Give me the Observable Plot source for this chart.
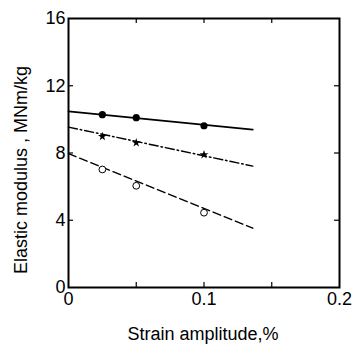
<!DOCTYPE html>
<html><head><meta charset="utf-8">
<script src="https://cdn.jsdelivr.net/npm/d3@7"></script>
<script src="https://cdn.jsdelivr.net/npm/@observablehq/plot@0.6"></script>
<style>body{margin:0;background:#fff}svg{font-family:"Liberation Sans",Arial,sans-serif}</style>
</head><body><div id="chart"></div>
<script>
// Measured points (strain amplitude, %)
const strain = [0.025, 0.05, 0.1];
const filledCircle = [10.28, 10.1, 9.62];
const star = [8.99, 8.61, 7.9];
const openCircle = [7.02, 6.05, 4.45];
// Fitted lines (endpoints)
const fitX = [0, 0.136];
const fitSolid = [10.48, 9.39];
const fitDashDot = [9.54, 7.22];
const fitDashed = [7.96, 3.53];
// Axis ticks
const xTicks = [0, 0.1, 0.2];
const xInnerTicks = [0.05, 0.1, 0.15];
const yTicks = [0, 4, 8, 12, 16];
const yInnerTicks = [4, 8, 12];
const xLabel = "Strain amplitude,%";
const yLabel = "Elastic modulus , MNm/kg";

const W = 354, H = 344, mL = 68, mR = 15, mT = 18, mB = 57;
const iW = W - mL - mR, iH = H - mT - mB;
const tickLen = 5;

const pts = (ys) => strain.map((x, i) => ({x, y: ys[i]}));
const fit = (ys) => fitX.map((x, i) => ({x, y: ys[i]}));

const chart = Plot.plot({
  width: W, height: H,
  marginLeft: mL, marginRight: mR, marginTop: mT, marginBottom: mB,
  style: {background: "#fff", color: "#000", fontFamily: "'Liberation Sans', Arial, sans-serif"},
  x: {domain: [0, 0.2]},
  y: {domain: [0, 16]},
  marks: [
    Plot.axisX({ticks: xTicks, tickSize: 0, tickPadding: 5, fontSize: 18, label: null,
      tickFormat: d => d === 0 ? "0" : d3.format(".1f")(d)}),
    Plot.axisY({ticks: yTicks, tickSize: 0, tickPadding: 3, fontSize: 18, label: null,
      tickFormat: d => String(d)}),
    // inward ticks
    Plot.tickX(xInnerTicks, {x: d => d, insetTop: iH - tickLen, stroke: "#000", strokeWidth: 1.2}),
    Plot.tickX(xInnerTicks, {x: d => d, insetBottom: iH - tickLen, stroke: "#000", strokeWidth: 1.2}),
    Plot.tickY(yInnerTicks, {y: d => d, insetRight: iW - tickLen, stroke: "#000", strokeWidth: 1.2}),
    Plot.tickY(yInnerTicks, {y: d => d, insetLeft: iW - tickLen, stroke: "#000", strokeWidth: 1.2}),
    Plot.frame({stroke: "#000", strokeWidth: 2}),
    // fitted lines
    Plot.line(fit(fitSolid), {x: "x", y: "y", stroke: "#000", strokeWidth: 1.7}),
    Plot.line(fit(fitDashDot), {x: "x", y: "y", stroke: "#000", strokeWidth: 1.5, strokeDasharray: "9,3,1.5,3"}),
    Plot.line(fit(fitDashed), {x: "x", y: "y", stroke: "#000", strokeWidth: 1.5, strokeDasharray: "8,4"}),
    // markers
    Plot.dot(pts(filledCircle), {x: "x", y: "y", r: 3.6, fill: "#000", stroke: "none"}),
    Plot.dot(pts(star), {x: "x", y: "y", symbol: "star", r: 2.8, fill: "#000", stroke: "none"}),
    Plot.dot(pts(openCircle), {x: "x", y: "y", r: 3.4, fill: "#fff", stroke: "#000", strokeWidth: 1}),
    // axis labels
    Plot.text([xLabel], {text: d => d, frameAnchor: "bottom", textAnchor: "middle", dx: -1, dy: 46.5, lineAnchor: "middle",
      fontSize: 18, letterSpacing: 0.4, fill: "#000"}),
    Plot.text([yLabel], {text: d => d, frameAnchor: "left", textAnchor: "middle", rotate: -90, dx: -47, dy: 17, lineAnchor: "middle",
      fontSize: 18, letterSpacing: 1.1, fill: "#000"})
  ]
});
document.getElementById("chart").appendChild(chart);
</script>
</body></html>
